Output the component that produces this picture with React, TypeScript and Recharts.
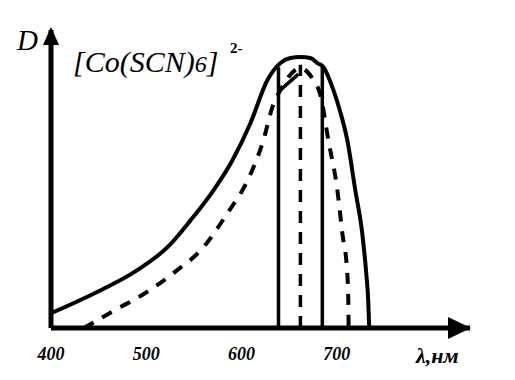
import React from "react";
import { LineChart, Line, XAxis, YAxis, ReferenceLine, ReferenceDot } from "recharts";

// wavelength (nm) / optical density (relative units)
const solidCurve = [
  { x: 400, y: 5.0 }, { x: 442, y: 11.1 }, { x: 491, y: 19.5 }, { x: 522.6, y: 27.2 },
  { x: 546.7, y: 36.2 }, { x: 570.8, y: 46.3 }, { x: 590.7, y: 56.4 }, { x: 609.5, y: 68.8 },
  { x: 627.3, y: 83.2 }, { x: 641, y: 88.9 }, { x: 651.4, y: 90.6 }, { x: 661.9, y: 90.9 },
  { x: 672.4, y: 90.6 }, { x: 679.7, y: 88.9 }, { x: 686, y: 87.6 }, { x: 696.5, y: 79.9 },
  { x: 703.8, y: 72.5 }, { x: 711.1, y: 63.1 }, { x: 719.5, y: 46.3 }, { x: 726.8, y: 31.9 },
  { x: 731, y: 18.5 }, { x: 733.1, y: 9.4 }, { x: 734.2, y: 0 },
];
const dashedCurve = [
  { x: 434.6, y: 0 }, { x: 466, y: 5.8 }, { x: 497.4, y: 11.4 }, { x: 528.9, y: 18.5 },
  { x: 560.3, y: 27.2 }, { x: 585.4, y: 38.6 }, { x: 606.4, y: 49.5 }, { x: 623.1, y: 63.1 },
  { x: 632.6, y: 74.2 }, { x: 641, y: 79.9 }, { x: 661.9, y: 87.2 }, { x: 675.5, y: 83.2 },
  { x: 682.9, y: 78.2 }, { x: 691.2, y: 63.1 }, { x: 700.7, y: 46.3 }, { x: 705.9, y: 31.9 },
  { x: 711.1, y: 18.5 }, { x: 712.2, y: 9.4 }, { x: 712.5, y: 0 },
];
const peakLink = [{ x: 641, y: 79.9 }, { x: 659.8, y: 85.2 }];
const leftBand = [{ x: 638.9, y: 0 }, { x: 638.9, y: 87.5 }];
const centerBand = [{ x: 661.9, y: 0 }, { x: 661.9, y: 88.3 }];
const rightBand = [{ x: 684.9, y: 0 }, { x: 684.9, y: 88 }];

const xTicks = [400, 500, 600, 700];
const xDomain = [400, 840];
const yDomain = [0, 100];

const serif = "Liberation Serif, DejaVu Serif, serif";

const Tick = (props: any) => {
  const { x, y, payload } = props;
  return (
    <text x={x} y={y} dy={32} textAnchor="middle" fontWeight="bold" fontStyle="italic"
      fontSize={18} fill="#000" style={{ fontFamily: serif }}>
      {payload.value}
    </text>
  );
};

const XArrow = (props: any) => {
  const { cx, cy } = props;
  return <polygon points={`${cx + 1},${cy} ${cx - 22},${cy - 11} ${cx - 22},${cy + 11}`} fill="#000" />;
};
const YArrow = (props: any) => {
  const { cx, cy } = props;
  return <polygon points={`${cx},${cy - 3} ${cx - 8},${cy + 15} ${cx + 8},${cy + 15}`} fill="#000" />;
};

export default function App() {
  return (
    <div style={{ position: "absolute", left: 0, top: 0, width: 515, height: 380, background: "#fff" }}>
      <LineChart width={515} height={380} margin={{ top: 30, right: 45, bottom: 12, left: 51 }}>
        <XAxis type="number" dataKey="x" domain={xDomain} ticks={xTicks} allowDataOverflow
          height={40} tickLine={false} tickSize={0} tickMargin={0} tick={<Tick />}
          axisLine={{ stroke: "#000", strokeWidth: 5 }} />
        <YAxis type="number" domain={yDomain} hide allowDataOverflow />
        <ReferenceLine segment={[{ x: 400, y: 0 }, { x: 400, y: 100 }]} stroke="#000" strokeWidth={5} />
        <ReferenceDot x={840} y={0} r={1} ifOverflow="visible" shape={<XArrow />} />
        <ReferenceDot x={400} y={100} r={1} ifOverflow="visible" shape={<YArrow />} />
        <Line data={solidCurve} dataKey="y" type="monotone" stroke="#000" strokeWidth={4}
          dot={false} isAnimationActive={false} strokeLinecap="round" />
        <Line data={dashedCurve} dataKey="y" type="monotone" stroke="#000" strokeWidth={4}
          strokeDasharray="11 10" dot={false} isAnimationActive={false} />
        <Line data={peakLink} dataKey="y" type="linear" stroke="#000" strokeWidth={3.5}
          dot={false} isAnimationActive={false} />
        <Line data={leftBand} dataKey="y" type="linear" stroke="#000" strokeWidth={3.5}
          dot={false} isAnimationActive={false} />
        <Line data={centerBand} dataKey="y" type="linear" stroke="#000" strokeWidth={3.5}
          strokeDasharray="12 9" dot={false} isAnimationActive={false} />
        <Line data={rightBand} dataKey="y" type="linear" stroke="#000" strokeWidth={3.5}
          dot={false} isAnimationActive={false} />
      </LineChart>
      <svg width={515} height={380} style={{ position: "absolute", left: 0, top: 0, pointerEvents: "none" }}>
        <text x={17} y={50} fontStyle="italic" fontSize={29} fill="#000" style={{ fontFamily: serif }}>D</text>
        <text x={73} y={72} fontStyle="italic" fontSize={30} fill="#000" style={{ fontFamily: serif }}>
          [Co(SCN)<tspan fontSize={24}>6</tspan>]
        </text>
        <text x={230} y={53} fontSize={15} fontWeight="bold" fill="#000" style={{ fontFamily: serif }}>2-</text>
        <text x={416} y={363} fontStyle="italic" fontWeight="bold" fontSize={22} fill="#000" style={{ fontFamily: serif }}>λ,нм</text>
      </svg>
    </div>
  );
}
